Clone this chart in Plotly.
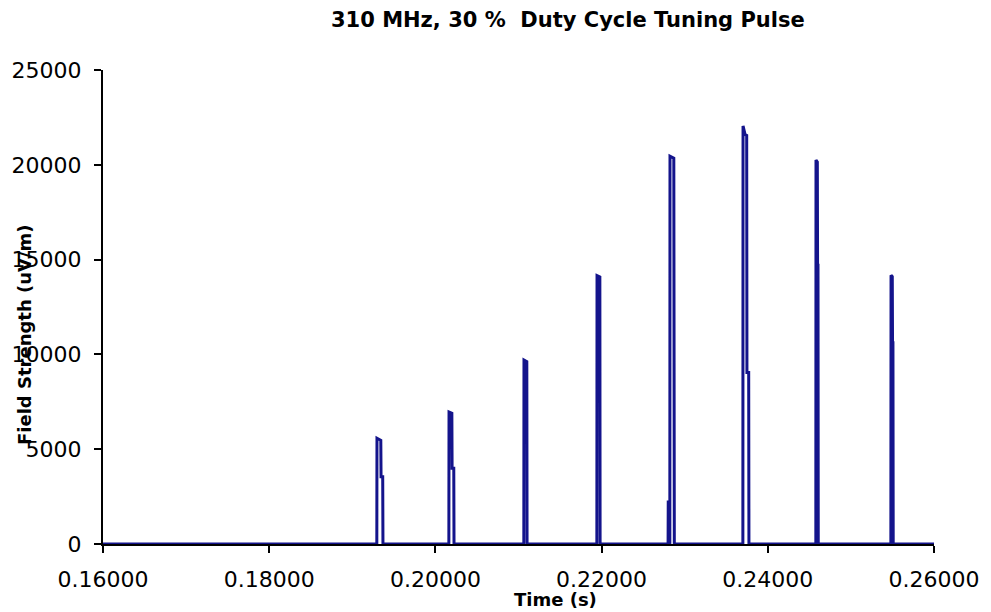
import plotly.graph_objects as go

# Time (s) and field strength (uV/m)
time_s = [
    0.16000,
    0.19295, 0.19297, 0.19343, 0.19346, 0.19366, 0.19369, 0.19372,
    0.20162, 0.20164, 0.20198, 0.20201, 0.20221, 0.20224, 0.20227,
    0.21064, 0.21066, 0.21100, 0.21103, 0.21106,
    0.21943, 0.21945, 0.21979, 0.21982, 0.21985,
    0.22800, 0.22802, 0.22805, 0.22821, 0.22823, 0.22869, 0.22872, 0.22875,
    0.23700, 0.23702, 0.23726, 0.23746, 0.23749, 0.23770, 0.23773, 0.23776,
    0.24578, 0.24580, 0.24596, 0.24599, 0.24604, 0.24607, 0.24610,
    0.25481, 0.25483, 0.25498, 0.25501, 0.25506, 0.25509, 0.25512,
    0.26000,
]
field_uvm = [
    0,
    0, 5580, 5470, 3550, 3550, 0, 0,
    0, 6960, 6900, 4000, 4000, 0, 0,
    0, 9700, 9620, 0, 0,
    0, 14150, 14080, 0, 0,
    0, 2300, 0, 0, 20450, 20350, 0, 0,
    0, 22050, 21600, 21550, 9050, 9050, 0, 0,
    0, 20250, 20150, 14700, 14700, 0, 0,
    0, 14180, 14100, 10620, 10620, 0, 0,
    0,
]

x_ticks = [0.16, 0.18, 0.20, 0.22, 0.24, 0.26]
y_ticks = [0, 5000, 10000, 15000, 20000, 25000]

fig = go.Figure()
fig.add_trace(go.Scatter(
    x=time_s, y=field_uvm, mode="lines",
    line=dict(color="#14148c", width=3),
    hoverinfo="x+y", showlegend=False,
))

tick_font = dict(family="DejaVu Sans", size=22, color="black")
plot_h = 612 - 70 - 68

fig.update_layout(
    width=991, height=612,
    margin=dict(l=103, r=57, t=70, b=68),
    paper_bgcolor="white", plot_bgcolor="white",
    showlegend=False,
    annotations=[
        dict(text="<b>310 MHz, 30 %\u00a0 Duty Cycle Tuning Pulse</b>",
             xref="paper", yref="paper", x=(568 - 103) / 831, y=1.0,
             yshift=70 - 20, xanchor="center", yanchor="middle",
             showarrow=False,
             font=dict(family="DejaVu Sans", size=21, color="black")),
        dict(text="<b>Time (s)</b>", xref="paper", yref="paper",
             x=(555 - 103) / 831, y=-(599 - 544) / plot_h,
             xanchor="center", yanchor="middle", showarrow=False,
             font=dict(family="DejaVu Sans", size=18, color="black")),
        dict(text="<b>Field Strength (uV/m)</b>", xref="paper", yref="paper",
             x=(24 - 103) / 831, y=(544 - 335) / plot_h,
             xanchor="center", yanchor="middle",
             textangle=-90, showarrow=False,
             font=dict(family="DejaVu Sans", size=18, color="black")),
    ],
)
fig.update_xaxes(
    range=[0.16, 0.26], tickvals=x_ticks, tickformat=".5f",
    ticks="outside", ticklen=7, tickwidth=1.5, tickcolor="black",
    ticklabelstandoff=8,
    showline=True, linecolor="black", linewidth=2,
    showgrid=False, zeroline=False, tickfont=tick_font,
)
fig.update_yaxes(
    range=[0, 25000], tickvals=y_ticks, tickformat="d",
    ticks="outside", ticklen=7, tickwidth=1.5, tickcolor="black",
    ticklabelstandoff=8,
    showline=True, linecolor="black", linewidth=2,
    showgrid=False, zeroline=False, tickfont=tick_font,
)

fig.write_html("out.html", config={"displayModeBar": False},
               post_script="document.body.style.margin='0';")
